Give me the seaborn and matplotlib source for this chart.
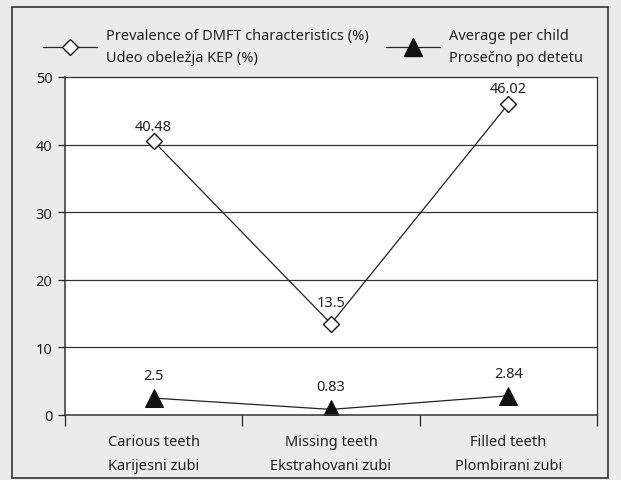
import matplotlib
matplotlib.use("Agg")
import matplotlib.pyplot as plt
import seaborn as sns
import pandas as pd
from matplotlib.patches import Rectangle
from matplotlib.lines import Line2D

categories = ["Carious teeth\nKarijesni zubi", "Missing teeth\nEkstrahovani zubi", "Filled teeth\nPlombirani zubi"]
prevalence = [40.48, 13.5, 46.02]
average = [2.5, 0.83, 2.84]
prev_labels = ["40.48", "13.5", "46.02"]
avg_labels = ["2.5", "0.83", "2.84"]
series_names = ["Prevalence of DMFT characteristics (%)\nUdeo obeležja KEP (%)",
                "Average per child\nProsečno po detetu"]
yticks = [0, 10, 20, 30, 40, 50]

sns.set_theme(style="white")
plt.rcParams['font.family'] = ['Noto Sans', 'DejaVu Sans']
FS = 10.5

W, H = 621, 481
fig = plt.figure(figsize=(W/100, H/100), dpi=100)
fig.patch.set_facecolor("#ebebeb")
fig.patches.append(Rectangle((12/W, 2/H), (608-12)/W, (473-2)/H, transform=fig.transFigure,
                             fill=False, edgecolor="#333333", linewidth=1.2))

ax = fig.add_axes([65/W, (H-416)/H, (597-65)/W, (416-78)/H])
ax.set_facecolor("white")

x = list(range(len(categories)))
df = pd.DataFrame({"x": x, "prev": prevalence, "avg": average})
sns.lineplot(data=df, x="x", y="prev", ax=ax, color="#222222", linewidth=0.9,
             marker="D", markersize=8.5, markerfacecolor="white", markeredgecolor="#111111",
             markeredgewidth=1.0)
sns.lineplot(data=df, x="x", y="avg", ax=ax, color="#222222", linewidth=0.9,
             marker="^", markersize=13, markerfacecolor="#111111", markeredgecolor="#111111")

prev_offsets = [5.5, 10, 6]
for xi, v, lab, off in zip(x, prevalence, prev_labels, prev_offsets):
    ax.annotate(lab, (xi, v), xytext=(0, off), textcoords="offset points",
                ha="center", va="bottom", fontsize=FS, color="#222222")
for xi, v, lab in zip(x, average, avg_labels):
    ax.annotate(lab, (xi, v), xytext=(0, 11), textcoords="offset points",
                ha="center", va="bottom", fontsize=FS, color="#222222")

ax.set_xlim(-0.5, 2.5)
ax.set_ylim(0, 50)
ax.set_yticks(yticks)
ax.set_yticklabels([str(t) for t in yticks], fontsize=FS, color="#222222")
ax.set_xticks([-0.5, 0.5, 1.5, 2.5])
ax.set_xticklabels([])
ax.set_xticks(x, minor=True)
ax.set_xticklabels(categories, minor=True, fontsize=FS, color="#222222", linespacing=1.75)
ax.tick_params(axis="x", which="major", length=8, width=0.9, color="#222222", direction="out", bottom=True)
ax.tick_params(axis="x", which="minor", length=0, pad=14, bottom=True)
ax.tick_params(axis="y", length=5, width=0.9, color="#222222", direction="out", left=True, pad=4)
ax.set_xlabel("")
ax.set_ylabel("")
for t in [10, 20, 30, 40]:
    ax.axhline(t, color="#333333", linewidth=0.9, zorder=0)
for s in ax.spines.values():
    s.set_visible(True)
    s.set_color("#333333")
    s.set_linewidth(0.9)
ax.spines["left"].set_linewidth(1.1)
ax.spines["bottom"].set_linewidth(1.1)

h1 = Line2D([], [], color="#222222", linewidth=0.9, marker="D", markersize=8.5,
            markerfacecolor="white", markeredgecolor="#111111")
h2 = Line2D([], [], color="#222222", linewidth=0.9, marker="^", markersize=13,
            markerfacecolor="#111111", markeredgecolor="#111111")
leg = fig.legend([h1, h2], series_names, loc="center", bbox_to_anchor=(313/W, 1-47.5/H), ncol=2,
           frameon=False, fontsize=FS, handlelength=3.7, columnspacing=1.2, handletextpad=0.6,
           labelcolor="#222222")
for t in leg.get_texts():
    t.set_linespacing(1.6)

fig.savefig("out.png", dpi=100, facecolor=fig.get_facecolor())
